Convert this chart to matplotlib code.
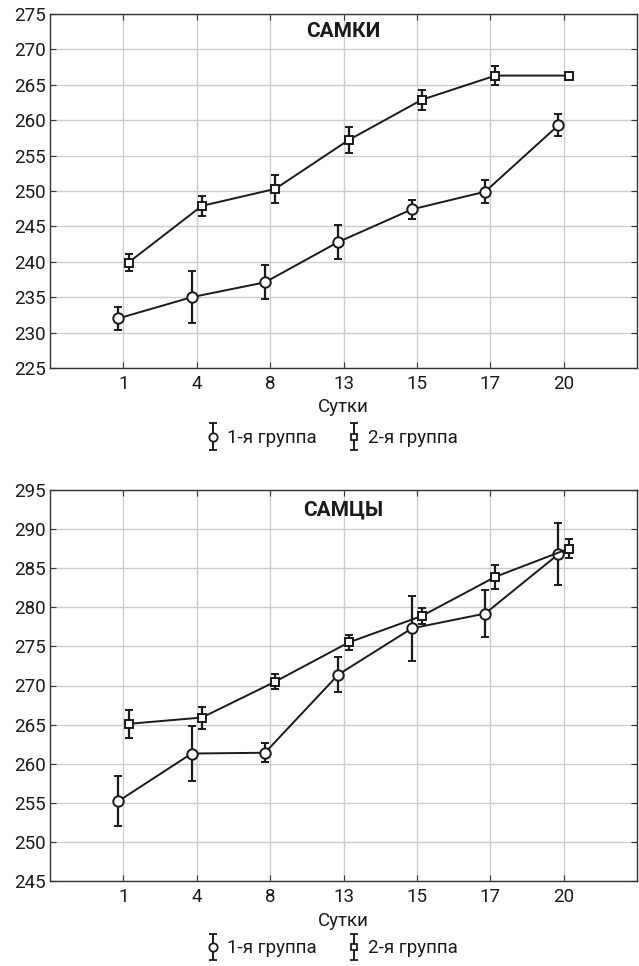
import numpy as np
import matplotlib
matplotlib.use("Agg")
import matplotlib.pyplot as plt
from matplotlib.legend_handler import HandlerErrorbar
from matplotlib.container import ErrorbarContainer

plt.rcParams['font.family'] = ['Roboto', 'DejaVu Sans']

# --------------------------------
# Data
# --------------------------------
days = ["1", "4", "8", "13", "15", "17", "20"]

fem_g1 = [232.0, 235.0, 237.1, 242.8, 247.4, 249.9, 259.3]
fem_g1_err = [1.6, 3.7, 2.4, 2.4, 1.3, 1.6, 1.6]
fem_g2 = [239.9, 247.9, 250.3, 257.2, 262.9, 266.3, 266.3]
fem_g2_err = [1.2, 1.4, 2.0, 1.9, 1.4, 1.3, 0.4]

male_g1 = [255.2, 261.3, 261.4, 271.4, 277.3, 279.2, 286.8]
male_g1_err = [3.2, 3.5, 1.2, 2.2, 4.2, 3.0, 4.0]
male_g2 = [265.1, 265.9, 270.5, 275.5, 278.9, 283.9, 287.5]
male_g2_err = [1.8, 1.4, 1.0, 1.0, 1.0, 1.5, 1.2]

group_names = ["1-я группа", "2-я группа"]
xlabel = "Сутки"

INK = "#1a1a1a"
FS = 13.5


# --------------------------------
# Helpers
# --------------------------------
def draw_panel(ax, y1, e1, y2, e2, title, ylim, leg_y):
    x = np.arange(1, len(days)+1)
    off = 0.07
    kw = dict(color=INK, lw=1.4, elinewidth=1.6, capsize=3,
              capthick=1.6, mfc="white", mec=INK, mew=1.4, zorder=3)
    ax.errorbar(x-off, y1, yerr=e1, marker="o", ms=7.5, **kw)
    ax.errorbar(x+off, y2, yerr=e2, marker="s", ms=6, **kw)

    ax.set_xlim(0, len(days)+1)
    ax.set_ylim(*ylim)
    ax.set_xticks(x)
    ax.set_xticklabels(days)
    ax.set_yticks(np.arange(ylim[0], ylim[1]+1, 5))
    ax.grid(True, color="#cccccc", lw=1.0)
    ax.set_axisbelow(True)
    ax.tick_params(direction="in", top=True, right=True, labelsize=FS,
                   length=4, color="#333333", pad=5, labelcolor=INK)
    ax.tick_params(axis="y", pad=3)
    for s in ax.spines.values():
        s.set_color("#333333")
        s.set_linewidth(1.0)
    ax.set_xlabel(xlabel, fontsize=FS, labelpad=4, color=INK)
    ax.text(0.5, 0.95, title, transform=ax.transAxes, ha="center",
            va="center", fontsize=15, fontweight="bold", color=INK)

    # legend handles: markers with vertical error bars only
    h1 = ax.errorbar([np.nan], [np.nan], yerr=[1], fmt="o", ms=6,
                     color=INK, mfc="white", mec=INK, mew=1.3,
                     elinewidth=1.4, capsize=3, capthick=1.4)
    h2 = ax.errorbar([np.nan], [np.nan], yerr=[1], fmt="s", ms=4.5,
                     color=INK, mfc="white", mec=INK, mew=1.3,
                     elinewidth=1.4, capsize=3, capthick=1.4)
    ax.legend([h1, h2], group_names, loc="upper center",
              bbox_to_anchor=(0.48, leg_y), ncol=2, frameon=False,
              fontsize=FS, handlelength=0.8, handletextpad=0.35,
              columnspacing=1.6, labelcolor=INK,
              handler_map={ErrorbarContainer: HandlerErrorbar(yerr_size=0.7)})


# --------------------------------
# Figure
# --------------------------------
fig = plt.figure(figsize=(6.39, 9.66), dpi=100)

ax1 = fig.add_axes([50/639, 1-368/966, 587/639, 354/966])
ax2 = fig.add_axes([50/639, 1-881/966, 587/639, 391/966])

draw_panel(ax1, fem_g1, fem_g1_err, fem_g2, fem_g2_err, "САМКИ",
           (225, 275), -0.125)
draw_panel(ax2, male_g1, male_g1_err, male_g2, male_g2_err, "САМЦЫ",
           (245, 295), -0.106)

fig.savefig("out.png", dpi=100)
